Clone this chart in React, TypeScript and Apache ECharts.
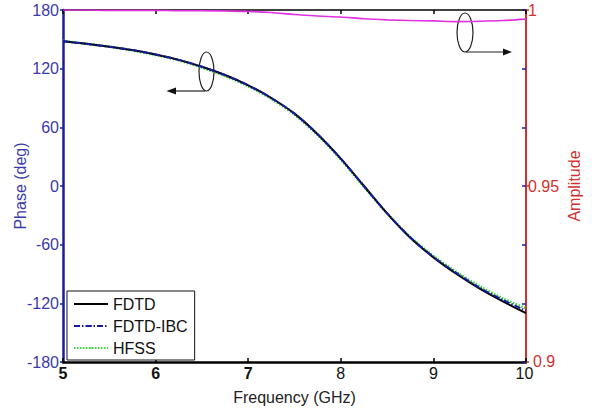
import React, { useEffect, useRef } from "react";
import * as echarts from "echarts";

// Frequency sweep (GHz)
const freq = [5.0, 5.25, 5.5, 5.75, 6.0, 6.25, 6.5, 6.75, 7.0, 7.25, 7.5, 7.75, 8.0, 8.25, 8.5, 8.75, 9.0, 9.25, 9.5, 9.75, 10.0];

// Transmission phase (deg) for each solver
const phaseFDTD = [148, 145.5, 142.5, 139, 134.5, 129, 122, 113.5, 103, 90, 74, 53, 28, 0, -28, -53, -73, -90, -105, -118, -130];
const phaseFDTDIBC = [148, 145.5, 142.5, 139, 134.5, 129, 122, 113.5, 103, 90, 74, 53, 28, 0, -28, -52.5, -72.5, -89, -104, -116.5, -127.5];
const phaseHFSS = [148.5, 145.5, 142.5, 138.5, 134, 128.5, 121, 112.5, 102, 89, 73, 52, 27, -1, -28, -52, -71.5, -88, -102.5, -115, -125];

// Transmission amplitude
const amplitude = [1.0, 1.0, 0.9999, 0.9999, 0.9999, 0.9998, 0.9998, 0.9997, 0.9996, 0.9993, 0.9987, 0.9983, 0.998, 0.9975, 0.9972, 0.997, 0.9969, 0.9967, 0.9968, 0.997, 0.9974];

const phaseTicks = [-180, -120, -60, 0, 60, 120, 180];
const ampTicks = [0.9, 0.95, 1];
const boldFreqTicks = [5, 6, 7];

const BLUE_AXIS = "#1c1c9c";
const BLUE_TEXT = "#3a3aac";
const RED = "#d33030";
const FONT = "Liberation Sans, Arial, sans-serif";

const pairs = (ys: number[]) => freq.map((f, i) => [f, ys[i]]);

export default function App() {
  const ref = useRef<HTMLDivElement>(null);

  useEffect(() => {
    if (!ref.current) return;
    const chart = echarts.init(ref.current, null, { renderer: "svg" });
    chart.setOption({
      animation: false,
      backgroundColor: "#ffffff",
      textStyle: { fontFamily: FONT },
      grid: { left: 63, right: 66, top: 10, bottom: 48, containLabel: false, outerBoundsMode: "none" },
      legend: {
        orient: "vertical",
        left: 67,
        top: 291,
        data: ["FDTD", "FDTD-IBC", "HFSS"],
        itemWidth: 34,
        itemHeight: 2,
        itemGap: 6,
        padding: [5, 7, 4, 6],
        backgroundColor: "#ffffff",
        borderColor: "#111",
        borderWidth: 1,
        borderRadius: 0,
        textStyle: { fontFamily: FONT, fontSize: 16, color: "#111" },
      },
      xAxis: [
        {
          type: "value",
          min: 5,
          max: 10,
          interval: 1,
          position: "bottom",
          name: "Frequency (GHz)",
          nameLocation: "middle",
          nameGap: 27,
          nameMoveOverlap: false,
          nameTextStyle: { fontFamily: FONT, fontSize: 16, color: "#222" },
          axisLine: { show: true, onZero: false, lineStyle: { color: "#000", width: 2.5 } },
          axisTick: { show: true, inside: true, length: 4, lineStyle: { color: "#000", width: 1.5 } },
          axisLabel: {
            margin: 6,
            fontFamily: FONT,
            fontSize: 16,
            lineHeight: 11,
            color: "#111",
            formatter: (v: number) =>
              boldFreqTicks.indexOf(v) >= 0 ? `{b|${v}}` : v === 10 ? `{e|${v}}` : `${v}`,
            rich: {
              b: { fontFamily: FONT, fontSize: 16, lineHeight: 11, fontWeight: "bold", color: "#111" },
              e: { fontFamily: FONT, fontSize: 16, lineHeight: 11, color: "#111", padding: [0, 3, 0, 0] },
            },
          },
          splitLine: { show: false },
        },
        {
          type: "value",
          min: 5,
          max: 10,
          interval: 1,
          position: "top",
          axisLine: { show: true, onZero: false, lineStyle: { color: "#000", width: 1.5 } },
          axisTick: { show: true, inside: true, length: 4, lineStyle: { color: "#000", width: 1.5 } },
          axisLabel: { show: false },
          splitLine: { show: false },
        },
      ],
      yAxis: [
        {
          type: "value",
          min: phaseTicks[0],
          max: phaseTicks[phaseTicks.length - 1],
          interval: 60,
          position: "left",
          name: "Phase (deg)",
          nameLocation: "middle",
          nameGap: 35,
          nameMoveOverlap: false,
          nameTextStyle: { fontFamily: FONT, fontSize: 16, color: BLUE_TEXT },
          axisLine: { show: true, onZero: false, lineStyle: { color: BLUE_AXIS, width: 2.5 } },
          axisTick: { show: true, inside: false, length: 3, lineStyle: { color: BLUE_AXIS, width: 1.5 } },
          axisLabel: { margin: 4, fontFamily: FONT, fontSize: 16, color: BLUE_TEXT },
          splitLine: { show: false },
        },
        {
          type: "value",
          min: ampTicks[0],
          max: ampTicks[ampTicks.length - 1],
          interval: 0.05,
          position: "right",
          name: "Amplitude",
          nameLocation: "middle",
          nameGap: 40,
          nameMoveOverlap: false,
          nameTextStyle: { fontFamily: FONT, fontSize: 16, color: RED },
          axisLine: { show: true, onZero: false, lineStyle: { color: RED, width: 2 } },
          axisTick: { show: true, inside: false, length: 3, lineStyle: { color: RED, width: 1.5 } },
          axisLabel: {
            margin: 2,
            fontFamily: FONT,
            fontSize: 16,
            lineHeight: 11,
            color: RED,
            formatter: (v: number) => {
              const s = String(Math.round(v * 100) / 100);
              return v < 0.91 ? `{lo|${s}}` : s;
            },
            rich: { lo: { fontFamily: FONT, fontSize: 16, lineHeight: 11, color: RED, padding: [0, 0, 2, 5] } },
          },
          splitLine: { show: false },
        },
        {
          // mirrored phase ticks on the right-hand frame
          type: "value",
          min: phaseTicks[0],
          max: phaseTicks[phaseTicks.length - 1],
          interval: 60,
          position: "right",
          axisLine: { show: false, onZero: false },
          axisTick: { show: true, inside: true, length: 4, lineStyle: { color: BLUE_AXIS, width: 1.5 } },
          axisLabel: { show: false },
          splitLine: { show: false },
        },
      ],
      series: [
        {
          name: "HFSS",
          type: "line",
          data: pairs(phaseHFSS),
          yAxisIndex: 0,
          symbol: "none",
          smooth: 0.3,
          lineStyle: { color: "#33dd33", width: 2.5, type: [1.5, 1.5] },
          itemStyle: { color: "#33dd33" },
        },
        {
          name: "FDTD",
          type: "line",
          data: pairs(phaseFDTD),
          yAxisIndex: 0,
          symbol: "none",
          smooth: 0.3,
          lineStyle: { color: "#000000", width: 2 },
          itemStyle: { color: "#000000" },
        },
        {
          name: "FDTD-IBC",
          type: "line",
          data: pairs(phaseFDTDIBC),
          yAxisIndex: 0,
          symbol: "none",
          smooth: 0.3,
          lineStyle: { color: "#1a1aa8", width: 2, type: [6, 2, 1.5, 2] },
          itemStyle: { color: "#1a1aa8" },
        },
        {
          name: "Amplitude",
          type: "line",
          data: pairs(amplitude),
          yAxisIndex: 1,
          symbol: "none",
          smooth: 0.3,
          z: 5,
          lineStyle: { color: "#e030e0", width: 1.6 },
          itemStyle: { color: "#e030e0" },
        },
      ],
      graphic: [
        // phase curves -> left axis
        { type: "ellipse", shape: { cx: 206.5, cy: 71.5, rx: 7.5, ry: 19.5 }, style: { fill: "none", stroke: "#222", lineWidth: 1.2 } },
        { type: "line", shape: { x1: 205, y1: 91, x2: 174, y2: 91 }, style: { stroke: "#222", lineWidth: 1.2 } },
        { type: "polygon", shape: { points: [[166.5, 91], [176, 87.5], [176, 94.5]] }, style: { fill: "#111" } },
        // amplitude curve -> right axis
        { type: "ellipse", shape: { cx: 465, cy: 32.5, rx: 8, ry: 19.5 }, style: { fill: "none", stroke: "#222", lineWidth: 1.2 } },
        { type: "line", shape: { x1: 466, y1: 52, x2: 505, y2: 52 }, style: { stroke: "#222", lineWidth: 1.2 } },
        { type: "polygon", shape: { points: [[512, 52], [503, 48.5], [503, 55.5]] }, style: { fill: "#111" } },
      ],
    });
    return () => chart.dispose();
  }, []);

  return <div ref={ref} style={{ position: "fixed", left: 0, top: 0, width: 592, height: 410 }} />;
}
